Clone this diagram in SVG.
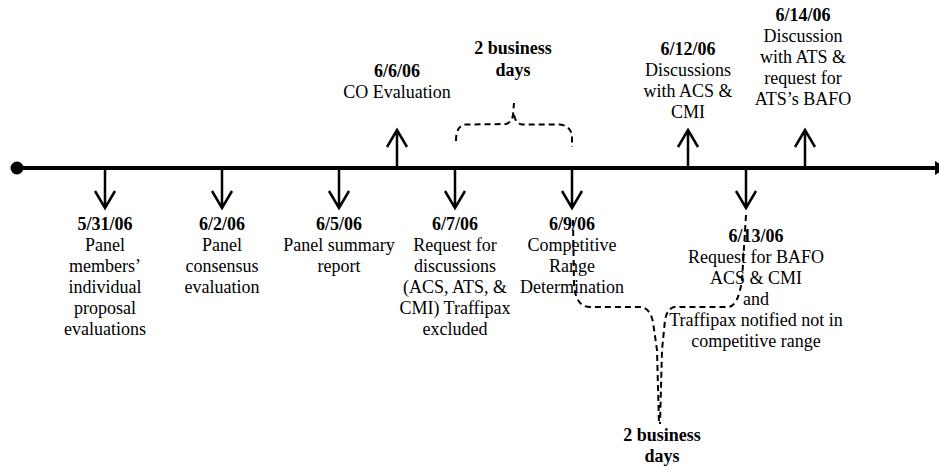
<svg xmlns="http://www.w3.org/2000/svg" width="939" height="466" viewBox="0 0 939 466">
<style>
.b{font-weight:bold}
.arr{stroke:#000;stroke-width:2.5;fill:none}
.dash{stroke:#000;stroke-width:2;fill:none;stroke-dasharray:6,4}
</style>
<defs>
<path id="down" class="arr" d="M0,170 L0,207 M-10,191 L0,208 L10,191"/>
<path id="up" class="arr" d="M0,166 L0,131 M-10,147 L0,130 L10,147"/>
</defs>
<rect width="939" height="466" fill="#fff"/>
<g id="connectors">
<line x1="17" y1="168" x2="936" y2="168" stroke="#000" stroke-width="4"/>
<circle cx="17" cy="168" r="6.5" fill="#000"/>
<polygon points="935,161 946,168 935,175" fill="#000"/>
<use href="#down" x="105"/>
<use href="#down" x="222"/>
<use href="#down" x="339"/>
<use href="#down" x="455"/>
<use href="#down" x="572"/>
<use href="#down" x="746"/>
<use href="#up" x="397"/>
<use href="#up" x="688"/>
<use href="#up" x="805"/>
<path class="dash" d="M456,141 Q456,125 466,124.5 L506,124 Q512,122 513,115 L514,103 M514,115 Q516,124 522,124.5 L560,124.5 Q571,126 572,136 L572,147"/>
<path class="dash" d="M573,220 L574,285 Q576,307 590,307 L641,307 Q650,308 653,322 L657,350 L659,424 M746,215 L742,280 Q738,307 728,307 L674,307 Q667,309 665,320 L662,350 L660,424"/>
</g>
<g font-family="Liberation Serif, serif" font-size="18" fill="#000" text-anchor="middle">
<g id="n0531"><text class="b" x="105" y="230">5/31/06</text><text x="105" y="251">Panel</text><text x="105" y="272">members’</text><text x="105" y="293">individual</text><text x="105" y="314">proposal</text><text x="105" y="335">evaluations</text></g>
<g id="n0602"><text class="b" x="222" y="230">6/2/06</text><text x="222" y="251">Panel</text><text x="222" y="272">consensus</text><text x="222" y="293">evaluation</text></g>
<g id="n0605"><text class="b" x="339" y="230">6/5/06</text><text x="339" y="251">Panel summary</text><text x="339" y="272">report</text></g>
<g id="n0606"><text class="b" x="397" y="77">6/6/06</text><text x="397" y="98">CO Evaluation</text></g>
<g id="n0607"><text class="b" x="455" y="230">6/7/06</text><text x="455" y="251">Request for</text><text x="455" y="272">discussions</text><text x="455" y="293">(ACS, ATS, &amp;</text><text x="455" y="314">CMI) Traffipax</text><text x="455" y="335">excluded</text></g>
<g id="n0609"><text class="b" x="572" y="230">6/9/06</text><text x="572" y="251">Competitive</text><text x="572" y="272">Range</text><text x="572" y="293">Determination</text></g>
<g id="n0612"><text class="b" x="688" y="55">6/12/06</text><text x="688" y="76">Discussions</text><text x="688" y="97">with ACS &amp;</text><text x="688" y="118">CMI</text></g>
<g id="n0613"><text class="b" x="756" y="242">6/13/06</text><text x="756" y="263">Request for BAFO</text><text x="756" y="284">ACS &amp; CMI</text><text x="756" y="305">and</text><text x="756" y="326">Traffipax notified not in</text><text x="756" y="347">competitive range</text></g>
<g id="n0614"><text class="b" x="803" y="21">6/14/06</text><text x="803" y="42">Discussion</text><text x="803" y="63">with ATS &amp;</text><text x="803" y="84">request for</text><text x="803" y="105">ATS’s BAFO</text></g>
<g id="gap1"><text class="b" x="513" y="54">2 business</text><text class="b" x="513" y="76">days</text></g>
<g id="gap2"><text class="b" x="662" y="441">2 business</text><text class="b" x="662" y="462">days</text></g>
</g>
</svg>
